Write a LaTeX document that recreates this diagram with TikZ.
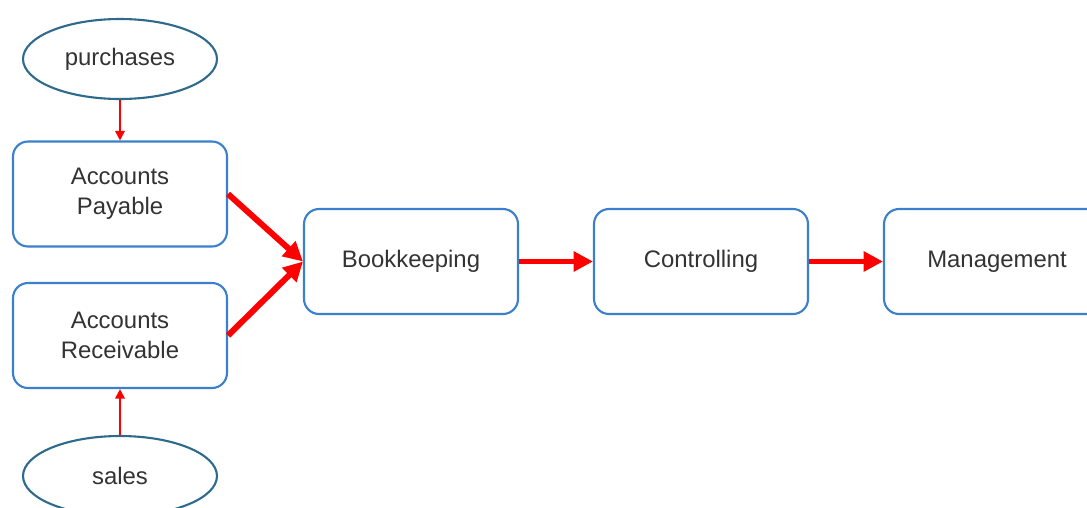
\documentclass[tikz,border=0pt]{standalone}
\usepackage{fontspec}
\setmainfont{Liberation Sans}
\usetikzlibrary{shapes.geometric,arrows.meta}
\definecolor{boxblue}{HTML}{3A80CC}
\definecolor{ovalblue}{HTML}{2E6A8C}
\definecolor{txt}{HTML}{333333}
\tikzset{
  stagebox/.style={draw=boxblue, line width=1.2pt, rounded corners=0.3cm, fill=white,
    minimum width=4.28cm, minimum height=2.1cm, align=center, text=txt,
    font=\fontsize{13.6}{17}\selectfont, inner sep=0pt},
  sourceoval/.style={ellipse, draw=ovalblue, line width=1.2pt, fill=white,
    minimum width=3.88cm, minimum height=1.6cm, text=txt,
    font=\fontsize{13.6}{17}\selectfont, inner sep=0pt},
  feed/.style={red, line width=1.1pt, -{Triangle[length=5.5pt,width=5.5pt]}},
  flow/.style={red, line width=3.4pt, -{Triangle[length=11pt,width=11pt]}}
}
\begin{document}
\begin{tikzpicture}[x=0.02cm, y=-0.02cm]
  \useasboundingbox (0,0) rectangle (1087,507);
  \clip (0,0) rectangle (1087,507);
  \fill[white] (0,0) rectangle (1087,507);

  % sources
  \node[sourceoval] (pur) at (120,59) {purchases};
  \node[sourceoval] (sal) at (120,476) {sales};

  % ledgers and downstream stages
  \node[stagebox] (ap) at (120,194) {Accounts\\Payable};
  \node[stagebox] (ar) at (120,335.5) {Accounts\\Receivable};
  \node[stagebox] (bk) at (411,261.5) {Bookkeeping};
  \node[stagebox] (ct) at (701,261.5) {Controlling};
  \node[stagebox, minimum width=4.52cm] (mg) at (997,261.5) {Management};

  % connectors
  \draw[feed] (pur) -- (ap);
  \draw[feed] (sal) -- (ar);
  \draw[flow] (ap.east) -- (bk.west);
  \draw[flow] (ar.east) -- (bk.west);
  \draw[flow] (bk) -- (ct);
  \draw[flow] (ct) -- (mg);
\end{tikzpicture}
\end{document}
